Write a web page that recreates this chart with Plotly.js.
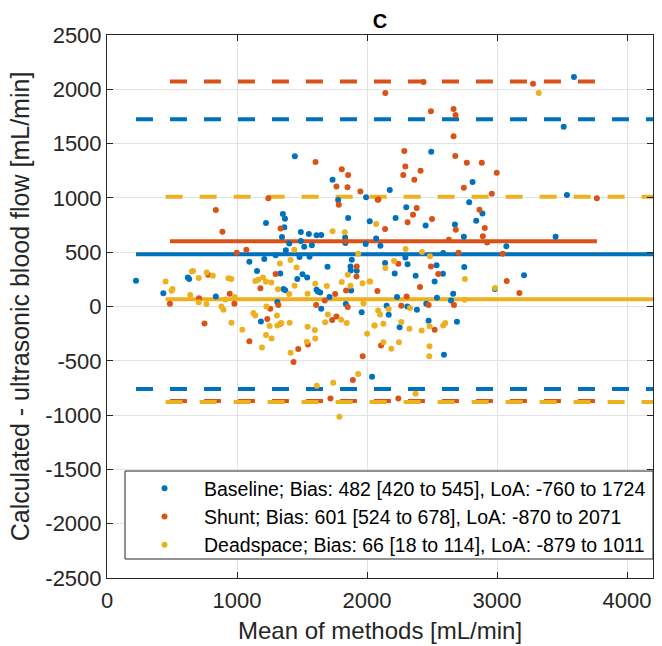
<!DOCTYPE html>
<html>
<head>
<meta charset="utf-8">
<script src="https://cdn.plot.ly/plotly-3.0.1.min.js"></script>
<style>html,body{margin:0;padding:0;background:#fff;}#chart{width:662px;height:646px;}</style>
</head>
<body>
<div id="chart"></div>
<script>
// ---- Data ----
const seriesNames = [
  'Baseline; Bias: 482 [420 to 545], LoA: -760 to 1724',
  'Shunt; Bias: 601 [524 to 678], LoA: -870 to 2071',
  'Deadspace; Bias: 66 [18 to 114], LoA: -879 to 1011'
];
const seriesColors = ['#0072BD', '#D95319', '#EDB120'];

const bias    = [482, 601, 66];
const loaLow  = [-760, -870, -879];
const loaHigh = [1724, 2071, 1011];
const lineXStart = [223, 484, 451];
const lineXEnd   = [4500, 3768, 4500];

const baselineX = [1445,1735,1778,1993,1353,1369,1223,1855,2021,3592,3513,2494,2175,2812,3538,2786,2302,2888,2220,2840,2451,2676,2745,2070,2103,3451,3072,2586,2295,2139,2312,2535,2213,2374,2584,2520,2748,3208,2984,2663,2231,2646,2456,2310,2384,2151,2167,2474,2692,2251,2592,2039,1364,1346,1491,1553,1612,1648,1832,1402,1376,1491,1517,1576,1834,1990,1095,1210,1297,1481,1558,1883,1873,1921,1875,1154,1333,1696,1464,1540,223,433,622,632,837,1310,1184,1612,1622,1640,1711,1648,1837,1959,1357,1371,2538,1504,1878];
const baselineY = [1383,1168,981,1005,852,809,769,815,784,2114,1656,1426,1073,1147,1027,959,913,857,815,790,747,756,643,627,560,643,554,492,452,400,388,379,305,284,302,231,364,287,160,118,88,56,26,1,-29,7,-76,-131,-140,-192,-444,-647,729,640,686,668,655,658,636,581,517,603,551,563,585,576,413,437,471,456,459,431,369,330,332,327,305,367,253,268,238,121,268,253,93,41,-137,155,139,130,87,-20,23,-54,162,149,80,296,148];

const shuntX = [1604,1806,1855,1765,1850,1949,1241,1783,837,2082,2435,2141,3277,2492,2666,2681,2666,2287,2679,2768,2883,2295,2279,2412,2364,2998,2745,2960,3768,2088,2382,2354,2865,2500,2312,2906,2139,2683,2891,2924,2630,3044,2704,2241,2492,2548,3075,3172,2080,2408,2305,2669,2474,2264,2520,2108,2241,888,1335,998,1072,1839,1921,1919,1297,484,708,944,980,750,1180,1318,1256,1233,1335,1095,1545,1471,1435,1839,1755,1609,1852,1732,1765,1967,1891,1719,778,1675];
const shuntY = [1331,1263,1211,1106,1097,1060,996,938,889,984,2067,1966,2052,1797,1819,1764,1567,1432,1386,1324,1324,1288,1211,1251,1168,1232,1094,1039,996,986,907,845,891,806,775,723,714,707,646,590,615,486,495,394,369,299,235,124,143,180,93,14,14,7,-214,-358,-846,689,719,495,523,600,369,277,299,26,75,118,26,-156,167,14,-20,-115,-158,-321,-349,-391,-511,148,115,14,-5,-124,-91,-459,-677,-846,293,56];

const deadspaceX = [2070,3321,2297,2423,2484,2141,2208,2753,2986,2024,2750,2331,2167,2085,2101,2481,2586,2602,2264,2326,2420,2126,2057,2126,2187,2246,2481,2479,2374,1735,1829,1441,1330,1412,1932,1458,451,504,497,652,662,706,767,814,934,957,640,706,765,911,982,880,896,957,1041,1141,1164,1200,1223,1264,1315,1226,1126,1141,1251,1307,1310,1405,1223,1266,1192,1543,1599,1602,1537,1412,1602,1543,1691,1806,1873,1973,2019,1965,1678,1801,1844,1699,2001,2059,1932,1614,1740,1788,1443,1852,1402,1341];
const deadspaceY = [760,1966,530,502,462,354,419,253,170,231,63,-14,-23,-36,-73,-183,-174,-152,-143,-204,-220,-158,-174,-330,-389,-330,-367,-459,-803,692,683,523,397,428,486,360,231,161,146,323,327,262,314,284,259,253,106,38,23,65,87,1,-29,-149,-214,235,247,268,228,222,158,1,-60,-82,-180,-82,-174,-149,-263,-294,-377,-186,-217,-294,-324,-426,210,118,189,226,192,29,231,213,-146,-122,-152,-73,-251,-174,-622,-729,-702,-1015,192,293,115,-152];

const xTicks = [0, 1000, 2000, 3000, 4000];
const xTickText = ['0', '1000', '2000', '3000', '4000'];
const yTicks = [-2500, -2000, -1500, -1000, -500, 0, 500, 1000, 1500, 2000, 2500];
const yTickText = ['-2500', '-2000', '-1500', '-1000', '-500', '0', '500', '1000', '1500', '2000', '2500'];

// ---- Build traces ----
const xs = [baselineX, shuntX, deadspaceX];
const ys = [baselineY, shuntY, deadspaceY];
const traces = [];

// reference lines first (drawn beneath points)
for (let i = 0; i < 3; i++) {
  const xr = [lineXStart[i], lineXEnd[i]];
  traces.push({x: xr, y: [bias[i], bias[i]], mode: 'lines', showlegend: false, hoverinfo: 'skip',
    line: {color: seriesColors[i], width: 4}});
  traces.push({x: xr, y: [loaLow[i], loaLow[i]], mode: 'lines', showlegend: false, hoverinfo: 'skip',
    line: {color: seriesColors[i], width: 4, dash: '17px,17px'}});
  traces.push({x: xr, y: [loaHigh[i], loaHigh[i]], mode: 'lines', showlegend: false, hoverinfo: 'skip',
    line: {color: seriesColors[i], width: 4, dash: '17px,17px'}});
}
for (let i = 0; i < 3; i++) {
  traces.push({x: xs[i], y: ys[i], name: seriesNames[i], mode: 'markers', type: 'scatter',
    marker: {color: seriesColors[i], size: 6}});
}

const axisColor = '#262626';
const fontFam = '"Liberation Sans", Arial, Helvetica, sans-serif';
const layout = {
  width: 662, height: 646,
  margin: {l: 107, r: 9, t: 35, b: 68, autoexpand: false},
  paper_bgcolor: '#fff', plot_bgcolor: '#fff',
  font: {family: fontFam, color: axisColor},
  title: {text: '<b>C</b>', font: {size: 20, color: '#000', family: fontFam},
    xref: 'paper', x: 0.5, xanchor: 'center', yref: 'container', y: 1 - 21/646, yanchor: 'middle'},
  xaxis: {
    range: [0, 4200], tickvals: xTicks, ticktext: xTickText, tickangle: 0,
    showgrid: true, gridcolor: '#e3e3e3', gridwidth: 1, zeroline: false,
    showline: true, linecolor: axisColor, linewidth: 1, mirror: 'ticks',
    ticks: 'inside', ticklen: 6, tickcolor: axisColor, ticklabelstandoff: 3,
    tickfont: {size: 22, color: axisColor, family: fontFam},
    title: {text: 'Mean of methods [mL/min]', font: {size: 24, color: axisColor, family: fontFam}, standoff: 9}
  },
  yaxis: {
    range: [-2500, 2500], tickvals: yTicks, ticktext: yTickText,
    showgrid: true, gridcolor: '#e3e3e3', gridwidth: 1, zeroline: false,
    showline: true, linecolor: axisColor, linewidth: 1, mirror: 'ticks',
    ticks: 'inside', ticklen: 6, tickcolor: axisColor,
    tickfont: {size: 22, color: axisColor, family: fontFam},
    title: {text: 'Calculated - ultrasonic blood flow [mL/min]', font: {size: 25, color: axisColor, family: fontFam}, standoff: 8}
  },
  // legend frame (MATLAB-style box)
  shapes: [{
    type: 'rect', xref: 'paper', yref: 'paper', layer: 'above',
    x0: 0.033, x1: 1.0, y0: 0.035, y1: 0.197,
    line: {color: axisColor, width: 1}, fillcolor: '#fff'
  }],
  showlegend: true,
  legend: {
    x: 0.033, y: 0.024, xanchor: 'left', yanchor: 'bottom',
    bgcolor: 'rgba(0,0,0,0)', borderwidth: 0,
    font: {size: 19.5, color: '#000', family: fontFam},
    itemwidth: 69, itemclick: false
  }
};

Plotly.newPlot('chart', traces, layout, {staticPlot: true, displayModeBar: false});
</script>
</body>
</html>
